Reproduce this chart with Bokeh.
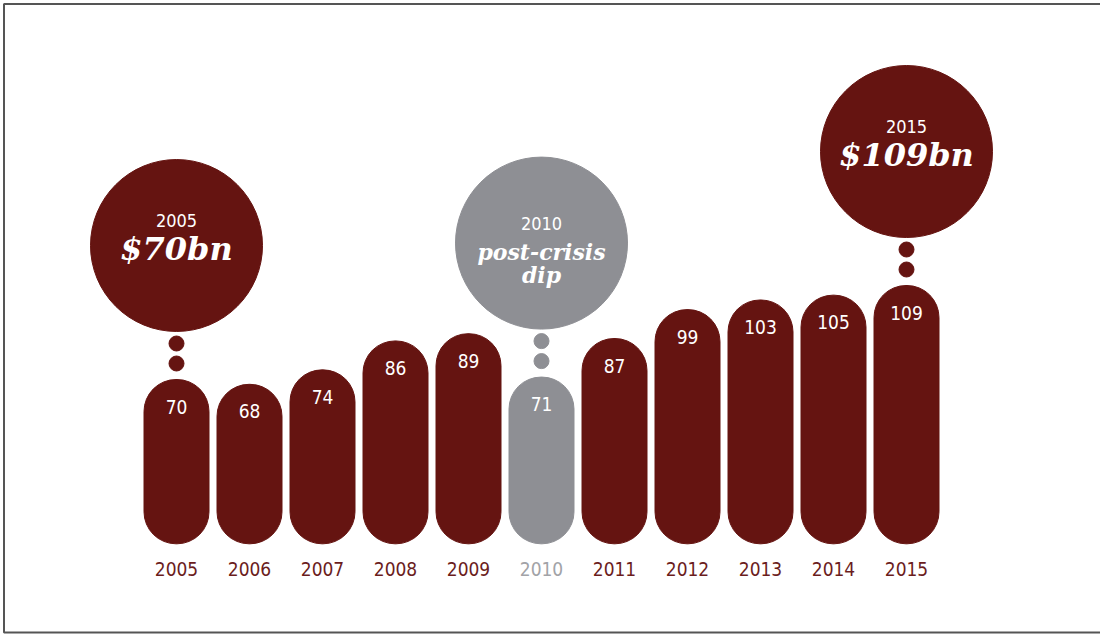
from bokeh.plotting import figure
from bokeh.models import Range1d, BoxAnnotation, ColumnDataSource
from bokeh.core.properties import value
from bokeh.embed import file_html
from bokeh.resources import INLINE

# ---- data ----
years = [2005, 2006, 2007, 2008, 2009, 2010, 2011, 2012, 2013, 2014, 2015]
values = [70, 68, 74, 86, 89, 71, 87, 99, 103, 105, 109]
year_labels = [str(y) for y in years]
dip_year = 2010

hl_years = [2005, 2010, 2015]
hl_year_labels = ["2005", "2010", "2015"]
hl_titles = ["$70bn", "post-crisis", "$109bn"]
hl_subtitles = ["", "dip", ""]

# ---- style ----
RED = "#651411"
GREY = "#8e8f94"
RED_TXT = "#6b1d1d"
GREY_TXT = "#a2a3a7"
NARROW = "DejaVu Sans Condensed, Liberation Sans, sans-serif"
SERIF = "DejaVu Serif"

W, H = 1100, 635
PX_X = 73.0          # pixels per year
X0_PX = 176.0        # pixel of first year
PX_Y = 2.41          # pixels per $bn
Y0_PX = 547.7        # pixel (from top) of value 0

x_start = years[0] - X0_PX / PX_X
x_end = x_start + W / PX_X
y_end = Y0_PX / PX_Y
y_start = y_end - H / PX_Y


def dy(px):
    return px / PX_Y


colors = [GREY if y == dip_year else RED for y in years]
txt_colors = [GREY_TXT if y == dip_year else RED_TXT for y in years]
bottom = dy(Y0_PX - 543.3)

src = ColumnDataSource(dict(
    x=years, top=values, bottom=[bottom] * len(years), color=colors,
    tcolor=txt_colors, vlabel=[str(v) for v in values], ylabel=year_labels,
    ylab_y=[-dy(568 - Y0_PX) for _ in years],
))

p = figure(width=W, height=H, output_backend="svg", toolbar_location=None,
           x_range=Range1d(x_start, x_end), y_range=Range1d(y_start, y_end),
           min_border=0, outline_line_color=None, background_fill_color="white",
           border_fill_color="white")
p.axis.visible = False
p.grid.visible = False

# frame border
p.add_layout(BoxAnnotation(left=x_start + 3.5 / PX_X, right=x_end + 5 / PX_X,
                           top=y_end - dy(3.5), bottom=y_end - dy(632),
                           fill_color=None, fill_alpha=0, line_color="#555555",
                           line_alpha=1.0, line_width=2))

# capsule bars
p.vbar(x="x", top="top", bottom="bottom", width=65 / PX_X, color="color",
       border_radius=32, source=src)

# value labels inside bars
p.text(x="x", y="top", text="vlabel", text_color="white",
       text_font=value(NARROW), text_font_size="19px", text_align="center",
       text_baseline="middle", y_offset=27, source=src)

# year labels
p.text(x="x", y="ylab_y", text="ylabel", text_color="tcolor",
       text_font=value(NARROW), text_font_size="19px", text_align="center",
       text_baseline="middle", source=src)

# highlight bubbles
hv = [values[years.index(y)] for y in hl_years]
hc = [GREY if y == dip_year else RED for y in hl_years]
hsrc = ColumnDataSource(dict(
    x=hl_years, v=hv, color=hc,
    dot1=[v + dy(16) for v in hv], dot2=[v + dy(36) for v in hv],
    bub=[v + dy(134) for v in hv],
))
p.scatter(x="x", y="dot1", size=15, color="color", source=hsrc)
p.scatter(x="x", y="dot2", size=15, color="color", source=hsrc)
p.scatter(x="x", y="bub", size=172, color="color", source=hsrc)

for i, yr in enumerate(hl_years):
    b = hv[i] + dy(134)
    if hl_subtitles[i]:
        p.text(x=[yr], y=[b], text=[hl_year_labels[i]], text_color="white",
               text_font=value(NARROW), text_font_size="18px",
               text_align="center", text_baseline="middle", y_offset=-20)
        p.text(x=[yr], y=[b], text=[hl_titles[i]], text_color="white",
               text_font=value(SERIF), text_font_style="bold italic",
               text_font_size="22px", text_align="center",
               text_baseline="middle", y_offset=9)
        p.text(x=[yr], y=[b], text=[hl_subtitles[i]], text_color="white",
               text_font=value(SERIF), text_font_style="bold italic",
               text_font_size="22px", text_align="center",
               text_baseline="middle", y_offset=32)
    else:
        p.text(x=[yr], y=[b], text=[hl_year_labels[i]], text_color="white",
               text_font=value(NARROW), text_font_size="18px",
               text_align="center", text_baseline="middle", y_offset=-25)
        p.text(x=[yr], y=[b], text=[hl_titles[i]], text_color="white",
               text_font=value(SERIF), text_font_style="bold italic",
               text_font_size="32px", text_align="center",
               text_baseline="middle", y_offset=3)

open("out.html", "w").write(file_html(p, INLINE))
